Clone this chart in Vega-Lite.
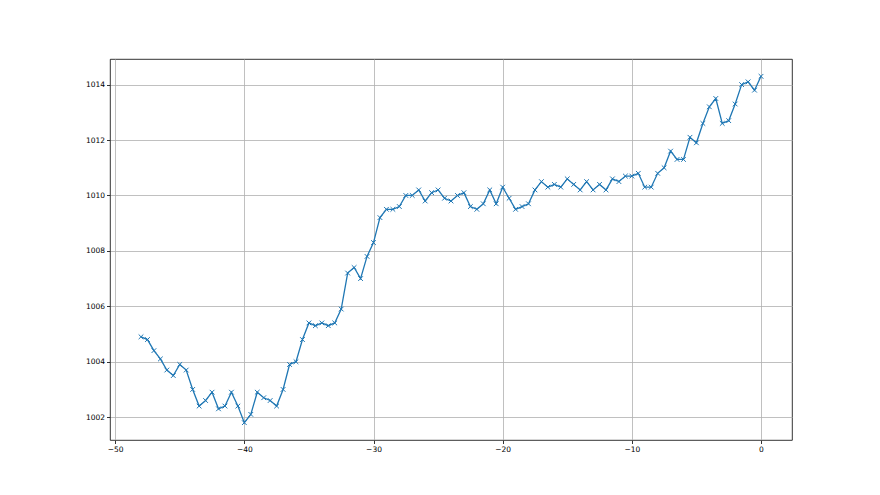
{
  "$schema": "https://vega.github.io/schema/vega-lite/v6.json",
  "autosize": "none",
  "width": 682,
  "height": 381,
  "padding": {"left": 110, "top": 59, "right": 88, "bottom": 55},
  "background": "white",
  "config": {
    "view": {"stroke": "#000000", "strokeWidth": 0.8},
    "axis": {
      "labelFont": "DejaVu Sans",
      "labelFontSize": 7.5,
      "labelColor": "#000000",
      "tickColor": "#000000",
      "tickSize": 3.5,
      "tickWidth": 0.8,
      "labelPadding": 2,
      "domain": false,
      "grid": true,
      "gridColor": "#b0b0b0",
      "gridWidth": 0.8,
      "title": null
    }
  },
  "data": {
    "values": [
      {"t": -48, "p": 1004.9}, {"t": -47.5, "p": 1004.8}, {"t": -47, "p": 1004.4}, {"t": -46.5, "p": 1004.1},
      {"t": -46, "p": 1003.7}, {"t": -45.5, "p": 1003.5}, {"t": -45, "p": 1003.9}, {"t": -44.5, "p": 1003.7},
      {"t": -44, "p": 1003.0}, {"t": -43.5, "p": 1002.4}, {"t": -43, "p": 1002.6}, {"t": -42.5, "p": 1002.9},
      {"t": -42, "p": 1002.3}, {"t": -41.5, "p": 1002.4}, {"t": -41, "p": 1002.9}, {"t": -40.5, "p": 1002.4},
      {"t": -40, "p": 1001.8}, {"t": -39.5, "p": 1002.1}, {"t": -39, "p": 1002.9}, {"t": -38.5, "p": 1002.7},
      {"t": -38, "p": 1002.6}, {"t": -37.5, "p": 1002.4}, {"t": -37, "p": 1003.0}, {"t": -36.5, "p": 1003.9},
      {"t": -36, "p": 1004.0}, {"t": -35.5, "p": 1004.8}, {"t": -35, "p": 1005.4}, {"t": -34.5, "p": 1005.3},
      {"t": -34, "p": 1005.4}, {"t": -33.5, "p": 1005.3}, {"t": -33, "p": 1005.4}, {"t": -32.5, "p": 1005.9},
      {"t": -32, "p": 1007.2}, {"t": -31.5, "p": 1007.4}, {"t": -31, "p": 1007.0}, {"t": -30.5, "p": 1007.8},
      {"t": -30, "p": 1008.3}, {"t": -29.5, "p": 1009.2}, {"t": -29, "p": 1009.5}, {"t": -28.5, "p": 1009.5},
      {"t": -28, "p": 1009.6}, {"t": -27.5, "p": 1010.0}, {"t": -27, "p": 1010.0}, {"t": -26.5, "p": 1010.2},
      {"t": -26, "p": 1009.8}, {"t": -25.5, "p": 1010.1}, {"t": -25, "p": 1010.2}, {"t": -24.5, "p": 1009.9},
      {"t": -24, "p": 1009.8}, {"t": -23.5, "p": 1010.0}, {"t": -23, "p": 1010.1}, {"t": -22.5, "p": 1009.6},
      {"t": -22, "p": 1009.5}, {"t": -21.5, "p": 1009.7}, {"t": -21, "p": 1010.2}, {"t": -20.5, "p": 1009.7},
      {"t": -20, "p": 1010.3}, {"t": -19.5, "p": 1009.9}, {"t": -19, "p": 1009.5}, {"t": -18.5, "p": 1009.6},
      {"t": -18, "p": 1009.7}, {"t": -17.5, "p": 1010.2}, {"t": -17, "p": 1010.5}, {"t": -16.5, "p": 1010.3},
      {"t": -16, "p": 1010.4}, {"t": -15.5, "p": 1010.3}, {"t": -15, "p": 1010.6}, {"t": -14.5, "p": 1010.4},
      {"t": -14, "p": 1010.2}, {"t": -13.5, "p": 1010.5}, {"t": -13, "p": 1010.2}, {"t": -12.5, "p": 1010.4},
      {"t": -12, "p": 1010.2}, {"t": -11.5, "p": 1010.6}, {"t": -11, "p": 1010.5}, {"t": -10.5, "p": 1010.7},
      {"t": -10, "p": 1010.7}, {"t": -9.5, "p": 1010.8}, {"t": -9, "p": 1010.3}, {"t": -8.5, "p": 1010.3},
      {"t": -8, "p": 1010.8}, {"t": -7.5, "p": 1011.0}, {"t": -7, "p": 1011.6}, {"t": -6.5, "p": 1011.3},
      {"t": -6, "p": 1011.3}, {"t": -5.5, "p": 1012.1}, {"t": -5, "p": 1011.9}, {"t": -4.5, "p": 1012.6},
      {"t": -4, "p": 1013.2}, {"t": -3.5, "p": 1013.5}, {"t": -3, "p": 1012.6}, {"t": -2.5, "p": 1012.7},
      {"t": -2, "p": 1013.3}, {"t": -1.5, "p": 1014.0}, {"t": -1, "p": 1014.1}, {"t": -0.5, "p": 1013.8},
      {"t": 0, "p": 1014.3}
    ]
  },
  "encoding": {
    "x": {
      "field": "t", "type": "quantitative",
      "scale": {"domain": [-50.4, 2.4], "nice": false, "zero": false},
      "axis": {"values": [-50, -40, -30, -20, -10, 0], "format": "d"}
    },
    "y": {
      "field": "p", "type": "quantitative",
      "scale": {"domain": [1001.175, 1014.925], "nice": false, "zero": false},
      "axis": {"values": [1002, 1004, 1006, 1008, 1010, 1012, 1014], "format": "d"}
    }
  },
  "layer": [
    {"mark": {"type": "line", "color": "#1f77b4", "strokeWidth": 1.3, "clip": true}},
    {"mark": {"type": "point", "shape": "M-1,-1L1,1M-1,1L1,-1", "filled": false, "color": "#1f77b4", "size": 22, "strokeWidth": 1, "opacity": 1}}
  ]
}
